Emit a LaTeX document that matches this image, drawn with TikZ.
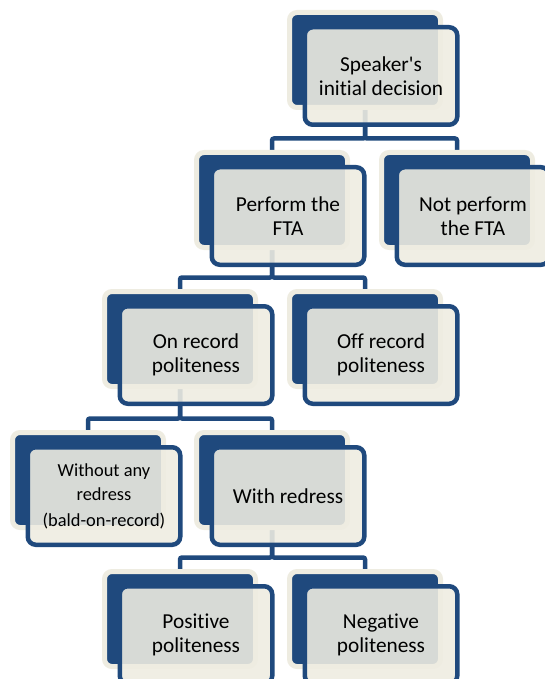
\documentclass[tikz,border=0pt]{standalone}
\usepackage{fontspec}
\setmainfont{Carlito}[Ligatures={CommonOff,TeXOff}]
\usetikzlibrary{backgrounds}
\definecolor{dblue}{RGB}{31,73,125}
\definecolor{beige}{RGB}{238,236,225}
\tikzset{
  backbox/.style={draw=beige, fill=dblue, line width=5pt, rounded corners=7.5pt,
    minimum width=151pt, minimum height=95pt, inner sep=0pt, outer sep=0pt},
  frontbox/.style={draw=dblue, fill=beige, fill opacity=0.89, text opacity=1,
    line width=4.5pt, rounded corners=8pt, minimum width=152.5pt, minimum height=97.5pt,
    inner sep=0pt, outer sep=0pt, align=center, text=black,
    font=\fontsize{21.3}{24}\selectfont},
  smalltext/.style={font=\fontsize{18.4}{24}\selectfont},
  link/.style={draw=dblue, line width=4.5pt, rounded corners=2pt}
}
\begin{document}
\begin{tikzpicture}[x=1pt,y=-1pt]
\useasboundingbox (0,0) rectangle (544,679);
% back boxes
\node[backbox] (b1) at (365,60) {};
\node[backbox] (b2) at (272,200) {};
\node[backbox] (b3) at (457,200) {};
\node[backbox] (b4) at (180,339) {};
\node[backbox] (b5) at (365,339) {};
\node[backbox] (b6) at (88,480) {};
\node[backbox] (b7) at (272,480) {};
\node[backbox] (b8) at (180,619) {};
\node[backbox] (b9) at (365,619) {};
% front boxes
\node[frontbox] (f1) at (381,76) {Speaker's\\initial decision};
\node[frontbox] (f2) at (288,216) {Perform the\\FTA};
\node[frontbox] (f3) at (473,216) {Not perform\\the FTA};
\node[frontbox] (f4) at (196,355) {On record\\politeness};
\node[frontbox] (f5) at (381,355) {Off record\\politeness};
\node[frontbox, smalltext] (f6) at (104,496) {Without any\\redress\\[2pt](bald-on-record)};
\node[frontbox] (f7) at (288,496) {With redress};
\node[frontbox] (f8) at (196,635) {Positive\\politeness};
\node[frontbox] (f9) at (381,635) {Negative\\politeness};
% connectors
\begin{scope}[on background layer]
\draw[link] (b1.south) |- ([yshift=14pt]b2.north) -- (b2.north);
\draw[link] (b1.south) |- ([yshift=14pt]b3.north) -- (b3.north);
\draw[link] (b2.south) |- ([yshift=14pt]b4.north) -- (b4.north);
\draw[link] (b2.south) |- ([yshift=14pt]b5.north) -- (b5.north);
\draw[link] (b4.south) |- ([yshift=14pt]b6.north) -- (b6.north);
\draw[link] (b4.south) |- ([yshift=14pt]b7.north) -- (b7.north);
\draw[link] (b7.south) |- ([yshift=14pt]b8.north) -- (b8.north);
\draw[link] (b7.south) |- ([yshift=14pt]b9.north) -- (b9.north);
\end{scope}
\end{tikzpicture}
\end{document}
